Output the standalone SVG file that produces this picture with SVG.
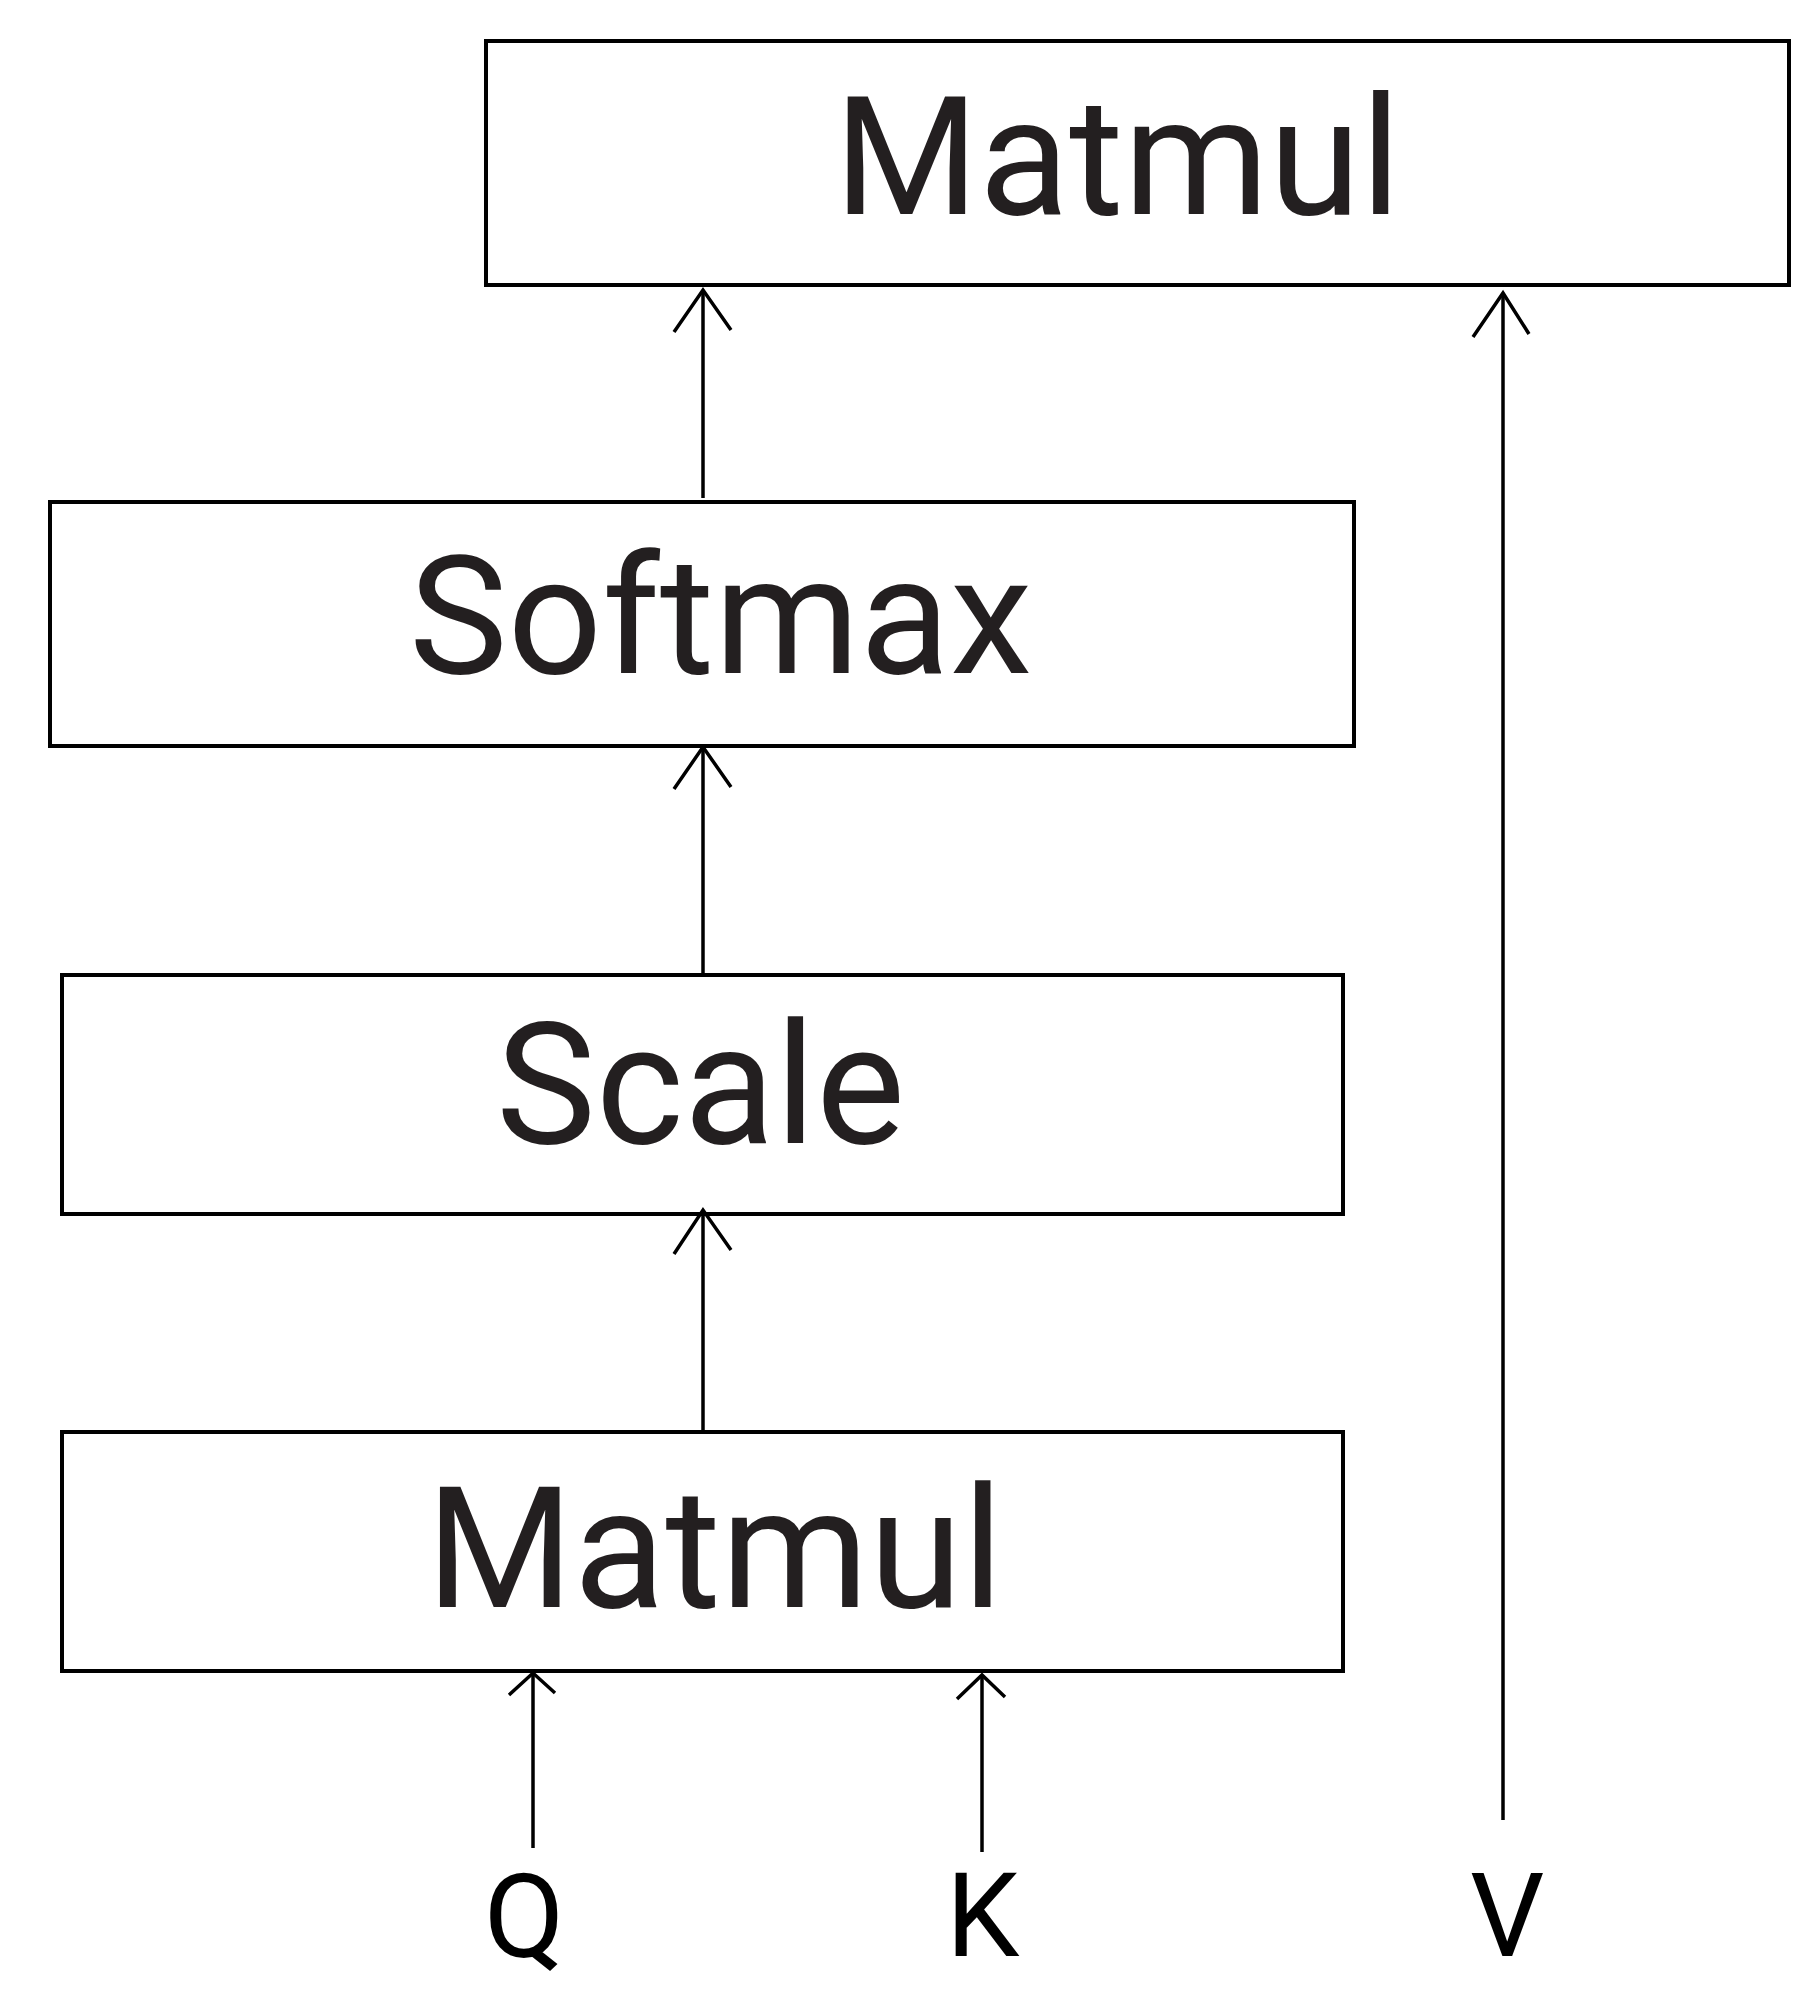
<svg xmlns="http://www.w3.org/2000/svg" width="1817" height="2005" viewBox="0 0 1817 2005">
  <style>
    .box { fill: #ffffff; stroke: #000000; stroke-width: 4; }
    .lbl { font-family: Roboto, "Liberation Sans", sans-serif; font-size: 166px; fill: #231f20; }
    .io { font-family: Roboto, "Liberation Sans", sans-serif; font-size: 117px; fill: #000000; }
    .wire { fill: none; stroke: #000000; stroke-width: 3.5; }
  </style>
  <rect width="1817" height="2005" fill="#ffffff"/>
  <g id="matmul-top">
    <rect class="box" x="486" y="41" width="1303" height="244"/>
    <text class="lbl" x="834" y="214">Matmul</text>
  </g>
  <g id="softmax">
    <rect class="box" x="50" y="502" width="1304" height="244"/>
    <text class="lbl" x="409" y="673">Softmax</text>
  </g>
  <g id="scale">
    <rect class="box" x="62" y="975" width="1281" height="239"/>
    <text class="lbl" x="496" y="1143" style="font-size:168px">Scale</text>
  </g>
  <g id="matmul-bottom">
    <rect class="box" x="62" y="1432" width="1281" height="239"/>
    <text class="lbl" x="426" y="1607" style="font-size:169px">Matmul</text>
  </g>
  <g id="input-q">
    <text class="io" x="484" y="1957">Q</text>
  </g>
  <g id="input-k">
    <text class="io" x="946" y="1956">K</text>
  </g>
  <g id="input-v">
    <text class="io" x="1470" y="1956">V</text>
  </g>
  <g id="connectors">
    <line class="wire" x1="703" y1="498" x2="703" y2="290"/>
    <polyline class="wire" points="674,332 703,290 731,330"/>
    <line class="wire" x1="703" y1="976" x2="703" y2="747"/>
    <polyline class="wire" points="674,789 703,747 731,787"/>
    <line class="wire" x1="703" y1="1432" x2="703" y2="1210"/>
    <polyline class="wire" points="674,1254 703,1210 731,1250"/>
    <line class="wire" x1="1503" y1="1820" x2="1503" y2="293"/>
    <polyline class="wire" points="1473,337 1503,293 1529,334"/>
    <line class="wire" x1="533" y1="1848" x2="533" y2="1673"/>
    <polyline class="wire" points="509,1695 533,1673 555,1693"/>
    <line class="wire" x1="982" y1="1852" x2="982" y2="1675"/>
    <polyline class="wire" points="957,1699 982,1675 1005,1697"/>
  </g>
</svg>
